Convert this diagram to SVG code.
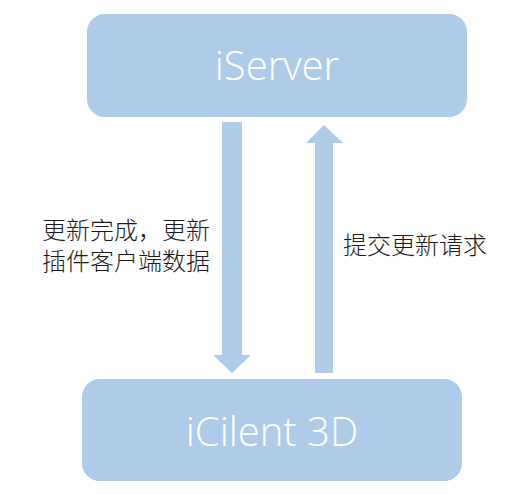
<svg xmlns="http://www.w3.org/2000/svg" width="520" height="495" viewBox="0 0 520 495">
<style>
.box{fill:#aecce9}
.arrow{fill:#aecce9}
.title{font-family:"Open Sans","Noto Sans",sans-serif;font-weight:300;font-size:40px;fill:#ffffff;text-anchor:middle}
.label{font-family:"Noto Sans CJK SC","Noto Sans",sans-serif;font-weight:300;font-size:24px;fill:#1a1a1a}
</style>
<rect width="520" height="495" fill="#ffffff"/>
<g id="iServer">
<rect class="box" x="87" y="14" width="380" height="103" rx="18"/>
<text class="title" x="277" y="80">iServer</text>
</g>
<g id="iClient3D">
<rect class="box" x="82" y="379" width="380" height="102" rx="18"/>
<text class="title" x="272" y="446">iCilent 3D</text>
</g>
<g id="connectors">
<polygon class="arrow" points="222,122 242,122 242,355 251,355 232,373 213,355 222,355"/>
<polygon class="arrow" points="315,373 333,373 333,143 343,143 324,125 306,143 315,143"/>
<text class="label" x="42" y="239">更新完成，更新</text>
<text class="label" x="42" y="270">插件客户端数据</text>
<text class="label" x="343" y="254">提交更新请求</text>
</g>
</svg>
